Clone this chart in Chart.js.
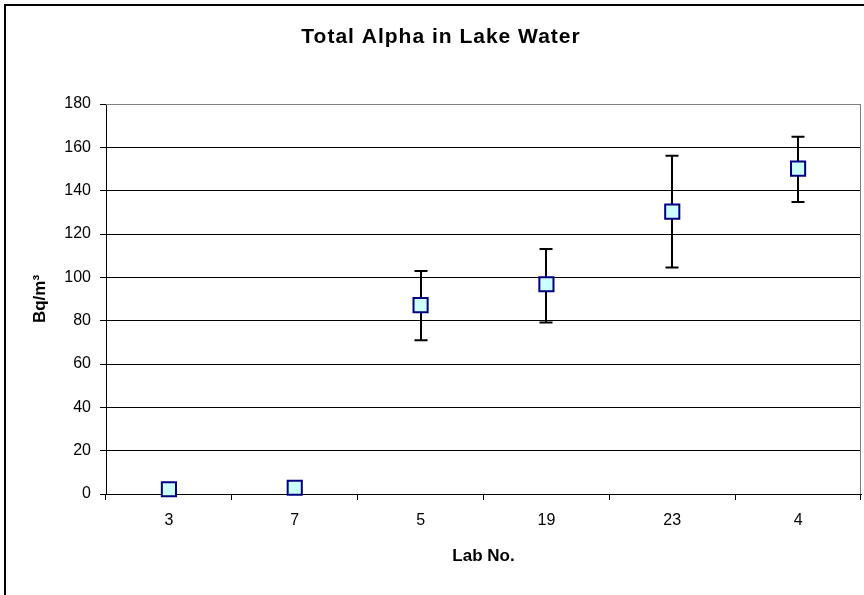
<!DOCTYPE html>
<html>
<head>
<meta charset="utf-8">
<script src="https://cdn.jsdelivr.net/npm/chart.js@4/dist/chart.umd.min.js"></script>
<style>
  html, body { margin: 0; padding: 0; background: #fff; }
  #wrap { width: 864px; height: 595px; }
</style>
</head>
<body>
<div id="wrap"><canvas id="c" width="864" height="595"></canvas></div>
<script>
// ---- data ----
const chartTitle = 'Total Alpha in Lake Water';
const labNos = ['3', '7', '5', '19', '23', '4'];
const values = [2.2, 2.9, 87.2, 96.8, 130.3, 150.2];
const errLow = [null, null, 71.0, 79.1, 104.5, 134.8];
const errHigh = [null, null, 102.9, 113.1, 156.1, 164.9];
const yTicks = [0, 20, 40, 60, 80, 100, 120, 140, 160, 180];

const FONT = "'Liberation Sans', Arial, Helvetica, sans-serif";

const errorBars = {
  id: 'errorBars',
  beforeDatasetsDraw(chart) {
    const { ctx, scales: { x, y } } = chart;
    ctx.save();
    ctx.strokeStyle = '#000';
    ctx.lineWidth = 2;
    labNos.forEach((lab, i) => {
      if (errLow[i] == null || errHigh[i] == null) return;
      const px = Math.round(x.getPixelForValue(i));
      const yl = y.getPixelForValue(errLow[i]);
      const yh = y.getPixelForValue(errHigh[i]);
      const cap = 6.5;
      ctx.beginPath();
      ctx.moveTo(px, yl); ctx.lineTo(px, yh);
      ctx.moveTo(px - cap, yl); ctx.lineTo(px + cap, yl);
      ctx.moveTo(px - cap, yh); ctx.lineTo(px + cap, yh);
      ctx.stroke();
    });
    ctx.restore();
  }
};

const frame = {
  id: 'frame',
  beforeDraw(chart) {
    const { ctx } = chart;
    ctx.save();
    ctx.fillStyle = '#fff';
    ctx.fillRect(0, 0, chart.width, chart.height);
    ctx.strokeStyle = '#000';
    ctx.lineWidth = 2;
    ctx.beginPath();
    ctx.moveTo(5, 700); ctx.lineTo(5, 5); ctx.lineTo(900, 5);
    ctx.stroke();
    // chart title
    ctx.fillStyle = '#000';
    ctx.font = "bold 21px " + FONT;
    ctx.textAlign = 'center';
    ctx.textBaseline = 'middle';
    try { ctx.letterSpacing = '1px'; } catch (e) {}
    ctx.fillText(chartTitle, 441, 37);
    try { ctx.letterSpacing = '0px'; } catch (e) {}
    ctx.restore();
  },
  beforeDatasetsDraw(chart) {
    const { ctx, chartArea: a } = chart;
    ctx.save();
    ctx.strokeStyle = '#808080';
    ctx.lineWidth = 1;
    ctx.beginPath();
    ctx.moveTo(a.left, a.top + 0.5); ctx.lineTo(a.right - 0.5, a.top + 0.5);
    ctx.lineTo(a.right - 0.5, a.bottom);
    ctx.stroke();
    ctx.restore();
  }
};

new Chart(document.getElementById('c'), {
  type: 'line',
  data: {
    labels: labNos,
    datasets: [{
      label: 'Total Alpha',
      data: values,
      showLine: false,
      clip: false,
      pointStyle: 'rect',
      pointRadius: 10,
      pointHoverRadius: 10,
      pointBackgroundColor: '#CCFFFF',
      pointBorderColor: '#000080',
      pointBorderWidth: 2,
      pointHoverBorderWidth: 2
    }]
  },
  options: {
    responsive: false,
    animation: false,
    events: [],
    layout: { autoPadding: false, padding: { left: 0, right: 3, top: 104, bottom: 0 } },
    plugins: {
      legend: { display: false },
      tooltip: { enabled: false },
      title: { display: false }
    },
    scales: {
      x: {
        type: 'category',
        offset: true,
        afterFit(s) { s.height = 101; },
        grid: {
          offset: true,
          drawOnChartArea: false,
          drawTicks: true,
          tickLength: 6,
          tickColor: '#000',
          tickWidth: 1
        },
        border: { display: true, color: '#000', width: 1 },
        ticks: {
          color: '#000',
          padding: 11,
          font: { family: FONT, size: 16 },
          maxRotation: 0
        },
        title: {
          display: true,
          text: 'Lab No.',
          color: '#000',
          font: { family: FONT, size: 17, weight: 'bold', lineHeight: 1.2 },
          padding: { top: 0, bottom: 28 }
        }
      },
      y: {
        min: 0,
        max: 180,
        afterFit(s) { s.width = 106; },
        afterBuildTicks(s) { s.ticks = yTicks.map(v => ({ value: v })); },
        grid: {
          color: ctx => (ctx.tick && ctx.tick.value === 180) ? '#808080' : '#000',
          lineWidth: 1,
          drawTicks: true,
          tickLength: 6,
          tickColor: '#000'
        },
        border: { display: true, color: '#000', width: 1 },
        ticks: {
          color: '#000',
          padding: 9,
          font: { family: FONT, size: 16 }
        },
        title: {
          display: true,
          text: 'Bq/m³',
          color: '#000',
          font: { family: FONT, size: 17, weight: 'bold', lineHeight: 1.2 },
          padding: { top: 30, bottom: 0 }
        }
      }
    }
  },
  plugins: [frame, errorBars]
});
</script>
</body>
</html>
